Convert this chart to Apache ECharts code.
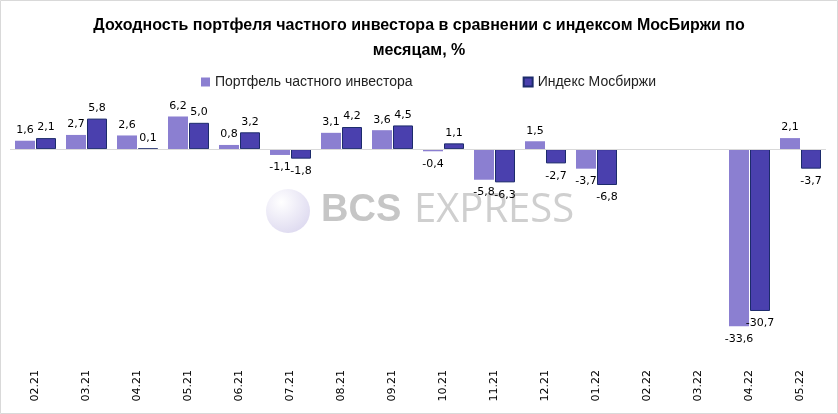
<!DOCTYPE html>
<html>
<head>
<meta charset="utf-8">
<script src="https://cdn.jsdelivr.net/npm/echarts@6/dist/echarts.min.js"></script>
<style>
    html, body { margin: 0; padding: 0; background: #fff; }
    #chart { width: 838px; height: 414px; }
</style>
</head>
<body>
<div id="chart"></div>
<script>
    // месяцы
    var months = ['02.21', '03.21', '04.21', '05.21', '06.21', '07.21', '08.21', '09.21',
                  '10.21', '11.21', '12.21', '01.22', '02.22', '03.22', '04.22', '05.22'];
    // доходность портфеля частного инвестора, %
    var portfolio = [1.6, 2.7, 2.6, 6.2, 0.8, -1.1, 3.1, 3.6, -0.4, -5.8, 1.5, -3.7, null, null, -33.6, 2.1];
    // индекс Мосбиржи, %
    var moex = [2.1, 5.8, 0.1, 5.0, 3.2, -1.8, 4.2, 4.5, 1.1, -6.3, -2.7, -6.8, null, null, -30.7, -3.7];

    var chart = echarts.init(document.getElementById('chart'));

    function fmt(p) {
        return p.value == null ? '' : p.value.toFixed(1).replace('.', ',');
    }
    // положительные подписи сверху, отрицательные снизу
    function withLabels(arr) {
        return arr.map(function (v) {
            if (v == null) return null;
            return {
                value: v,
                label: v < 0 ? { position: 'bottom', distance: 7 } : { position: 'top', distance: 5 }
            };
        });
    }

    var labelStyle = {
        show: true,
        formatter: fmt,
        color: '#000',
        fontFamily: 'DejaVu Sans',
        fontSize: 11
    };

    var option = {
        backgroundColor: '#fff',
        animation: false,
        title: {
            text: 'Доходность портфеля частного инвестора в сравнении с индексом МосБиржи по\nмесяцам, %',
            left: 'center',
            top: 8,
            textStyle: {
                fontFamily: 'Liberation Sans, sans-serif',
                fontWeight: 'bold',
                fontSize: 16,
                lineHeight: 25,
                color: '#000'
            }
        },
        legend: {
            top: 70,
            left: 196,
            itemGap: 110,
            itemWidth: 9,
            itemHeight: 9,
            icon: 'rect',
            textStyle: {
                fontFamily: 'Liberation Sans, sans-serif',
                fontSize: 14,
                color: '#222'
            },
            data: ['Портфель частного инвестора', 'Индекс Мосбиржи']
        },
        grid: {
            left: 10,
            right: 12,
            top: 107,
            bottom: 54,
            containLabel: false
        },
        xAxis: {
            type: 'category',
            data: months,
            axisLine: { show: false, onZero: false },
            axisTick: { show: false },
            axisLabel: {
                rotate: 90,
                margin: 10,
                color: '#000',
                fontFamily: 'DejaVu Sans',
                fontSize: 11
            }
        },
        yAxis: {
            type: 'value',
            min: -40,
            max: 8,
            show: false
        },
        graphic: [
            {
                type: 'rect',
                shape: { x: 0.5, y: 0.5, width: 837, height: 413 },
                style: { fill: 'none', stroke: '#d9d9d9', lineWidth: 1 },
                z: -10
            },
            {
                type: 'circle',
                shape: { cx: 288, cy: 211, r: 22 },
                style: {
                    fill: new echarts.graphic.RadialGradient(0.35, 0.3, 0.8, [
                        { offset: 0, color: '#ffffff' },
                        { offset: 1, color: '#dcd8ef' }
                    ])
                },
                z: -5
            },
            {
                type: 'text',
                left: 321,
                top: 192,
                style: {
                    text: 'BCS',
                    fill: '#c6c6c6',
                    font: 'bold 38px "Liberation Sans", sans-serif'
                },
                z: -5
            },
            {
                type: 'text',
                left: 414,
                top: 191,
                style: {
                    text: 'EXPRESS',
                    fill: '#cfcfcf',
                    font: '40px "Open Sans", sans-serif'
                },
                z: -5
            }
        ],
        series: [
            {
                name: 'Портфель частного инвестора',
                type: 'bar',
                barWidth: 20,
                barGap: '5%',
                itemStyle: { color: '#8b7fd1' },
                label: labelStyle,
                data: withLabels(portfolio),
                markLine: {
                    silent: true,
                    symbol: 'none',
                    label: { show: false },
                    lineStyle: { color: '#d9d9d9', type: 'solid', width: 1 },
                    data: [{ yAxis: 0 }]
                }
            },
            {
                name: 'Индекс Мосбиржи',
                type: 'bar',
                barWidth: 20,
                itemStyle: { color: '#4a40ae', borderColor: '#1c2b6b', borderWidth: 1 },
                label: labelStyle,
                data: withLabels(moex)
            }
        ]
    };

    chart.setOption(option);
</script>
</body>
</html>
